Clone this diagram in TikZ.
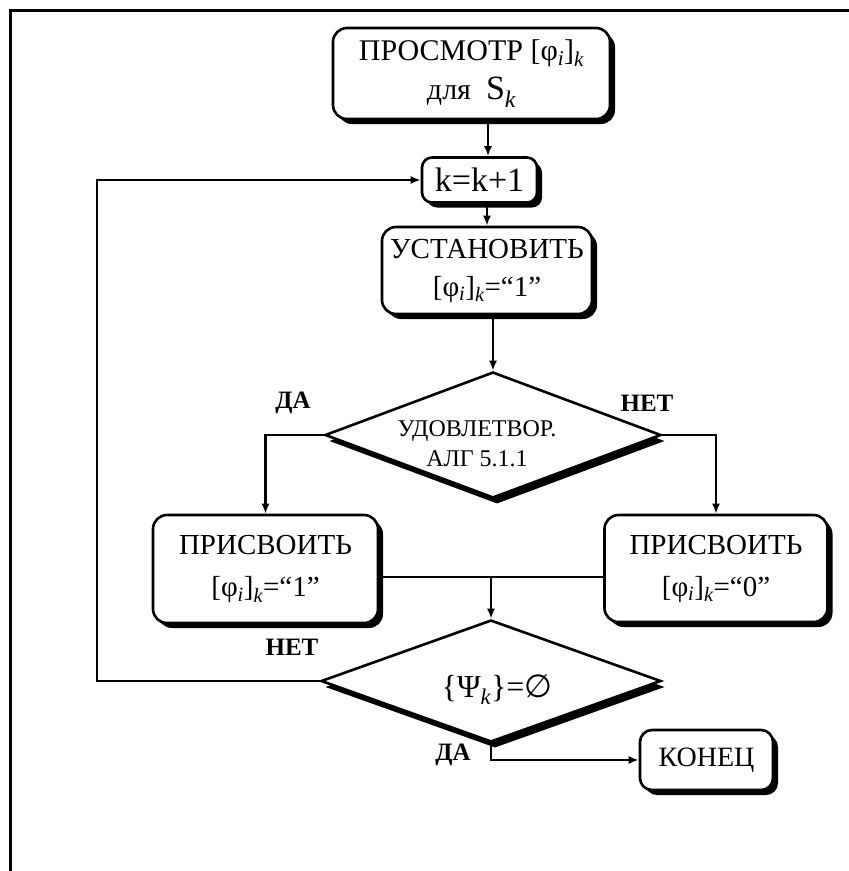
\documentclass[tikz,border=0pt]{standalone}
\usepackage{fontspec}
\setmainfont{Liberation Serif}
\newfontfamily\symfam{DejaVu Sans}
\usetikzlibrary{arrows.meta,shapes.geometric,shadows}
\newcommand{\phik}{[φ\textsubscript{\itshape i}]\textsubscript{\itshape k}}
\tikzset{
  box/.style={draw, line width=2.6pt, rounded corners=14pt, fill=white, inner sep=0pt, align=center,
    general shadow={fill=black, shadow xshift=5pt, shadow yshift=-5pt}},
  decision/.style={diamond, draw, line width=2.6pt, fill=white, inner sep=0pt,
    general shadow={fill=black, shadow xshift=4pt, shadow yshift=-6pt}},
  dtext/.style={inner sep=0pt, align=center},
  conn/.style={line width=2.4pt},
  arr/.style={line width=2.4pt, -{Latex[length=10pt,width=8pt]}},
  lbl/.style={font=\fontsize{25}{28}\selectfont\bfseries, inner sep=0pt},
  frameline/.style={line width=3pt}
}
\begin{document}
\begin{tikzpicture}[x=1pt,y=-1pt]
\useasboundingbox (0,0) rectangle (849,871);
\draw[frameline] (10,871) -- (10,10) -- (849,10);

\coordinate (ax) at (488,0);
\coordinate (lp) at (97,0);
\coordinate (m) at (491,577);

\node[box, minimum width=277pt, minimum height=91pt, font=\fontsize{30}{39}\selectfont] (b1) at (471.5,73.5)
  {ПРОСМОТР \phik\\ для\ \ {\fontsize{34}{36}\selectfont S\textsubscript{\itshape k}}};
\node[box, rounded corners=10pt, minimum width=115pt, minimum height=45pt, font=\fontsize{34}{36}\selectfont] (b2) at (479.5,180)
  {k=k+1};
\node[box, minimum width=210pt, minimum height=87pt, font=\fontsize{29}{38}\selectfont] (b3) at (487,270.5)
  {УСТАНОВИТЬ\\ \phik=“1”};
\node[decision, minimum width=336pt, minimum height=126pt] (d1) at (493,435) {};
\node[dtext, font=\fontsize{24}{30}\selectfont] (d1t) at (477,444) {УДОВЛЕТВОР.\\ АЛГ 5.1.1};
\node[box, minimum width=225pt, minimum height=108pt, font=\fontsize{29}{42}\selectfont] (b4) at (265.5,569)
  {ПРИСВОИТЬ\\ \phik=“1”};
\node[box, minimum width=223pt, minimum height=107pt, font=\fontsize{29}{42}\selectfont] (b5) at (716,568.5)
  {ПРИСВОИТЬ\\ \phik=“0”};
\node[decision, minimum width=340pt, minimum height=122pt] (d2) at (491,681) {};
\node[dtext, font=\fontsize{32}{36}\selectfont] (d2t) at (497,690) {\{Ψ\textsubscript{\itshape k}\}={\symfam ∅}};
\node[box, rounded corners=12pt, minimum width=133pt, minimum height=60pt, font=\fontsize{28}{32}\selectfont] (end) at (706.5,760)
  {КОНЕЦ};

\node[lbl] (da1) at (293,403) {ДА};
\node[lbl] (net1) at (647,403) {НЕТ};
\node[lbl] (net2) at (292,647) {НЕТ};
\node[lbl] (da2) at (453,755) {ДА};

\draw[arr] (b1.south -| ax) -- (b2.north -| ax);
\draw[arr] (b2.south -| b3.north) -- (b3.north);
\draw[arr] (b3.south -| d1.north) -- (d1.north);
\draw[arr] (d1.west) -| (b4.north);
\draw[arr] (d1.east) -| (b5.north);
\draw[conn] (b4.east |- m) -- (b5.west |- m);
\draw[arr] (m) -- (d2.north);
\draw[arr] (d2.west) -- (lp |- d2.west) |- (b2.west);
\draw[arr] (d2.south) |- (end.west);
\end{tikzpicture}
\end{document}
